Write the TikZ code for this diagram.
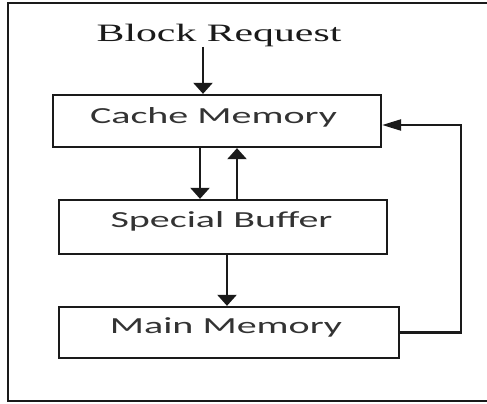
\documentclass[tikz,border=0pt]{standalone}
\usepackage{fontspec}
\setmainfont{Liberation Serif}
\newfontfamily\boxfont{Carlito}
\usetikzlibrary{arrows.meta}

\definecolor{inkline}{HTML}{1A1A1A}
\definecolor{inktext}{HTML}{333333}

\tikzset{
  blockbox/.style={draw=inkline, line width=2.3pt, fill=white, inner sep=0pt},
  boxlabel/.style={anchor=base, inner sep=0pt, text=inktext},
  flowv/.style={draw=inkline, line width=2.3pt,
    -{Triangle[length=11pt,width=19pt]}},
  flowh/.style={draw=inkline, line width=2.3pt,
    -{Triangle[length=19pt,width=11pt]}},
  frameline/.style={draw=inkline, line width=1.8pt},
}

% wide box lettering
\newcommand{\wideword}[1]{\scalebox{1.74}[1]{\boxfont\fontsize{23}{27}\selectfont #1}}

\begin{document}
\begin{tikzpicture}[x=1pt, y=-1pt]
  \useasboundingbox (0,0) rectangle (487,404);

  % outer frame, open on the right side
  \draw[frameline] (495,3) -- (8,3) -- (8,401) -- (495,401);

  % heading
  \node[anchor=base, inner sep=0pt, text=inkline] (req) at (219,42)
    {\scalebox{1.67}[1]{\fontsize{25}{30}\selectfont Block Request}};

  % boxes
  \node[blockbox, minimum width=328pt, minimum height=52pt] (cache) at (217,121) {};
  \node[blockbox, minimum width=328pt, minimum height=54pt] (buffer) at (223,227) {};
  \node[blockbox, minimum width=340pt, minimum height=51pt] (main) at (229,332.5) {};

  % box labels
  \node[boxlabel] (cachetext) at (213.5,123) {\wideword{Cache Memory}};
  \node[boxlabel] (buffertext) at (221.5,227) {\wideword{Special Buffer}};
  \node[boxlabel] (maintext) at (226,333) {\wideword{Main Memory}};

  % connector columns
  \coordinate (reqstart) at (203,47);
  \coordinate (downx) at (200,0);
  \coordinate (upx) at (237,0);
  \coordinate (lowx) at (227,0);
  \coordinate (fbtop) at (461,125);

  \draw[flowv] (reqstart) -- (reqstart |- cache.north);
  \draw[flowv] (downx |- cache.south) -- (downx |- buffer.north);
  \draw[flowv] (upx |- buffer.north) -- (upx |- cache.south);
  \draw[flowv] (lowx |- buffer.south) -- (lowx |- main.north);
  \draw[flowh] (main.east) -| (fbtop) -- (fbtop -| cache.east);
\end{tikzpicture}
\end{document}
